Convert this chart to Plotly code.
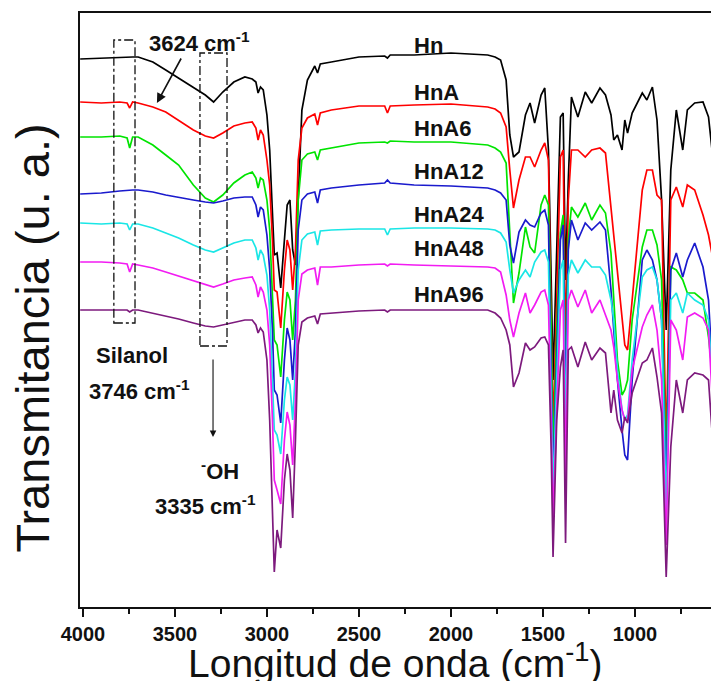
import plotly.graph_objects as go

# Wavenumber grid (cm^-1)
wavenumber = [4015, 3900, 3800, 3760, 3746, 3730, 3700, 3620, 3550, 3480,
              3400, 3335, 3290, 3240, 3180, 3120, 3080, 3060, 3048, 3035,
              3020, 3000, 2985, 2970, 2960, 2945, 2925, 2905, 2890, 2875,
              2860, 2845, 2830, 2810, 2780, 2740, 2725, 2710, 2650, 2500,
              2360, 2345, 2330, 2200, 2000, 1800, 1760, 1730, 1700, 1680,
              1660, 1630, 1595, 1570, 1545, 1510, 1490, 1470, 1455, 1445,
              1425, 1405, 1390, 1377, 1362, 1345, 1310, 1270, 1235, 1190,
              1160, 1130, 1115, 1095, 1070, 1055, 1040, 1015, 960, 935,
              905, 880, 855, 830, 805, 775, 740, 715, 675, 630,
              600, 575, 555, 545]

# Transmittance (arbitrary units, spectra offset as in the figure)
hn = [548, 549, 550, 550, 550, 550, 550, 545, 537, 529,
      519, 512, 505, 515, 525, 530, 528, 525, 514, 520,
      517, 492, 457, 397, 352, 354, 319, 367, 402, 407,
      357, 342, 407, 497, 527, 541, 534, 543, 545, 550,
      551, 549, 552, 552, 554, 552, 550, 547, 527, 472,
      450, 455, 492, 504, 484, 512, 519, 457, 327, 227,
      357, 490, 494, 327, 427, 510, 490, 515, 504, 519,
      512, 492, 467, 472, 457, 487, 474, 494, 514, 507,
      520, 487, 407, 277, 437, 497, 457, 497, 504, 505,
      490, 447, 402, 397]

hna = [505, 504, 505, 504, 499, 505, 504, 500, 495, 487,
       477, 471, 469, 474, 481, 484, 485, 479, 467, 477,
       472, 447, 422, 367, 317, 315, 279, 337, 367, 357,
       317, 357, 447, 479, 489, 493, 482, 494, 497, 501,
       501, 494, 501, 502, 503, 500, 498, 494, 480, 437,
       399, 427, 450, 450, 440, 457, 464, 447, 307, 177,
       307, 450, 457, 257, 407, 457, 457, 450, 457, 459,
       454, 397, 372, 337, 287, 262, 257, 307, 417, 437,
       437, 412, 407, 157, 407, 420, 400, 422, 417, 392,
       372, 347, 177, 187]

hna6 = [470, 470, 471, 469, 459, 470, 470, 462, 452, 442,
        422, 409, 405, 412, 424, 432, 435, 429, 419, 429,
        427, 407, 377, 317, 267, 262, 230, 287, 315, 307,
        267, 307, 407, 447, 453, 455, 447, 457, 459, 464,
        465, 464, 466, 465, 465, 462, 459, 455, 444, 367,
        304, 334, 380, 360, 354, 402, 412, 402, 277, 147,
        277, 374, 392, 207, 367, 400, 390, 404, 387, 402,
        394, 354, 307, 247, 212, 217, 227, 287, 360, 377,
        377, 362, 327, 137, 340, 337, 327, 314, 314, 307,
        270, 227, 127, 137]

hna12 = [413, 414, 416, 417, 417, 417, 417, 415, 412, 410,
         407, 405, 404, 406, 409, 410, 410, 402, 390, 400,
         397, 372, 337, 277, 217, 212, 184, 247, 279, 267,
         227, 277, 377, 407, 413, 415, 404, 417, 419, 422,
         424, 427, 424, 422, 421, 419, 417, 414, 407, 362,
         344, 375, 387, 382, 380, 394, 397, 382, 247, 127,
         247, 367, 382, 197, 357, 387, 367, 384, 377, 385,
         377, 317, 277, 227, 177, 152, 147, 227, 347, 357,
         347, 327, 287, 117, 337, 354, 330, 347, 364, 340,
         307, 227, 107, 117]

hna24 = [384, 383, 384, 383, 377, 383, 383, 379, 374, 369,
         362, 357, 355, 359, 364, 367, 367, 359, 347, 357,
         352, 332, 297, 227, 177, 172, 153, 207, 230, 222,
         187, 237, 337, 367, 373, 375, 362, 376, 377, 378,
         378, 372, 378, 379, 379, 378, 377, 374, 365, 337,
         314, 327, 337, 330, 345, 355, 357, 345, 227, 117,
         227, 337, 347, 177, 332, 347, 334, 347, 340, 340,
         332, 307, 287, 237, 197, 187, 192, 247, 330, 337,
         340, 327, 287, 97, 307, 314, 294, 314, 307, 302,
         287, 217, 97, 107]

hna48 = [345, 345, 344, 343, 335, 343, 342, 339, 335, 331,
         326, 322, 320, 323, 327, 329, 330, 322, 310, 320,
         315, 297, 262, 187, 127, 117, 103, 167, 195, 182,
         142, 207, 307, 333, 337, 339, 322, 340, 340, 342,
         343, 341, 343, 342, 341, 340, 339, 335, 312, 287,
         270, 294, 314, 294, 302, 315, 317, 302, 187, 87,
         197, 297, 307, 127, 307, 317, 300, 317, 294, 307,
         292, 277, 260, 227, 197, 187, 187, 237, 280, 292,
         302, 277, 227, 62, 287, 277, 247, 290, 294, 289,
         277, 194, 77, 87]

hna96 = [297, 297, 297, 297, 295, 297, 297, 294, 291, 288,
         284, 281, 280, 282, 285, 287, 287, 282, 274, 279,
         275, 247, 187, 87, 35, 77, 59, 127, 153, 137,
         89, 167, 262, 285, 289, 291, 283, 293, 294, 296,
         297, 295, 297, 297, 297, 297, 294, 289, 277, 262,
         220, 234, 264, 257, 260, 269, 270, 262, 157, 50,
         187, 240, 257, 64, 257, 260, 240, 265, 247, 259,
         254, 194, 217, 187, 174, 190, 184, 214, 244, 247,
         259, 230, 194, 30, 160, 227, 194, 227, 234, 232,
         227, 160, 47, 67]

series_names = ["Hn", "HnA", "HnA6", "HnA12", "HnA24", "HnA48", "HnA96"]
series_values = [hn, hna, hna6, hna12, hna24, hna48, hna96]
series_colors = ["#000000", "#ff0000", "#00e400", "#1a1acd", "#1ae6e6", "#f21cf2", "#7d1a7d"]
label_y = [562, 515, 479, 436, 393, 359, 313]

tick_vals = [4000, 3500, 3000, 2500, 2000, 1500, 1000]
minor_vals = [3750, 3250, 2750, 2250, 1750, 1250, 750]

FONT = "Liberation Sans, Arial, sans-serif"

fig = go.Figure()
for name, vals, col in zip(series_names, series_values, series_colors):
    fig.add_trace(go.Scatter(x=wavenumber, y=vals, mode="lines", name=name,
                             line=dict(color=col, width=1.7)))

annotations = []
for name, yv in zip(series_names, label_y):
    annotations.append(dict(x=2212, y=yv, xref="x", yref="y", text=name, showarrow=False,
                            xanchor="left", yanchor="middle",
                            font=dict(family=FONT, size=22, color="#111", weight="bold")))

bold = dict(family=FONT, size=22, color="#111", weight="bold")
annotations += [
    dict(x=3364, y=565, xref="x", yref="y", text="3624 cm<sup>-1</sup>", showarrow=False, font=bold),
    dict(x=3598, y=504, ax=3462, ay=550, xref="x", yref="y", axref="x", ayref="y",
         text="", showarrow=True, arrowhead=2, arrowsize=1.2, arrowwidth=1.6, arrowcolor="#111"),
    dict(x=3734, y=252, xref="x", yref="y", text="Silanol", showarrow=False, font=bold),
    dict(x=3690, y=217, xref="x", yref="y", text="3746 cm<sup>-1</sup>", showarrow=False, font=bold),
    dict(x=3293, y=170, ax=3293, ay=249, xref="x", yref="y", axref="x", ayref="y",
         text="", showarrow=True, arrowhead=2, arrowsize=1.2, arrowwidth=1.1, arrowcolor="#111"),
    dict(x=3255, y=137, xref="x", yref="y", text="<sup>-</sup>OH", showarrow=False, font=bold),
    dict(x=3332, y=102, xref="x", yref="y", text="3335 cm<sup>-1</sup>", showarrow=False, font=bold),
    dict(x=0.493, y=0, xref="paper", yref="paper", yshift=-53, yanchor="middle",
         text="Longitud de onda (cm<sup>-1</sup>)", showarrow=False,
         font=dict(family=FONT, size=39, color="#111")),
    dict(x=0, y=0.452, xref="paper", yref="paper", xshift=-47, xanchor="center", yanchor="middle",
         text="Transmitancia (u. a.)", textangle=-90, showarrow=False,
         font=dict(family=FONT, size=47, color="#111")),
]

shapes = [
    dict(type="rect", xref="x", yref="y", x0=3832, x1=3717, y0=284, y1=567,
         line=dict(color="#111", width=1.3, dash="dashdot")),
    dict(type="rect", xref="x", yref="y", x0=3364, x1=3217, y0=261, y1=554,
         line=dict(color="#111", width=1.3, dash="dashdot")),
]

# The page body keeps its default 8px margin, so the figure is 8px smaller
fig.update_layout(
    width=711, height=673,
    margin=dict(l=72, r=0, t=5, b=74),
    paper_bgcolor="white", plot_bgcolor="white",
    showlegend=False,
    annotations=annotations,
    shapes=shapes,
    xaxis=dict(range=[4016, 543], tickmode="array", tickvals=tick_vals,
               ticks="outside", ticklen=8, tickwidth=2, tickcolor="#111",
               minor=dict(tickmode="array", tickvals=minor_vals, ticks="outside",
                          ticklen=5, tickwidth=1.5, tickcolor="#111"),
               showline=True, linewidth=2.2, linecolor="#111", mirror=True,
               showgrid=False, zeroline=False,
               tickfont=dict(family=FONT, size=20, color="#111", weight="bold")),
    yaxis=dict(range=[0, 594], showticklabels=False, ticks="",
               showline=True, linewidth=2.2, linecolor="#111",
               showgrid=False, zeroline=False),
)

fig.write_html("out.html")
